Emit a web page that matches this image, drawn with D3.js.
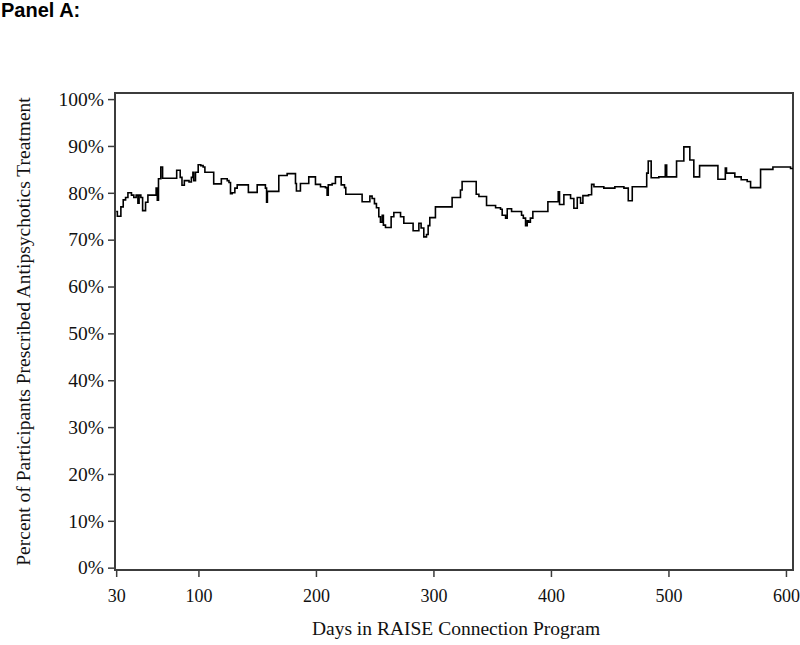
<!DOCTYPE html>
<html>
<head>
<meta charset="utf-8">
<script src="https://cdn.jsdelivr.net/npm/d3@7"></script>
<style>
  body { margin: 0; background: #fff; }
  svg { display: block; }
</style>
</head>
<body>
<div id="chart"></div>
<script>
// step points: day where the level starts, and the percent from that day on
const days = [30, 31, 34, 36, 38, 40, 43, 45, 47, 48.5, 49.5, 51, 52.5, 55, 57, 64, 65, 66, 68, 69.5,
  81.5, 84.5, 86, 88, 92, 94, 95.3, 96, 97.5, 99.8, 102, 104, 105.5, 113, 119.5, 124.5, 126, 127.3, 128.7, 131,
  133, 142.5, 150, 157, 158, 158.7, 168.4, 175.5, 182.6, 183.4, 186.8, 193.9, 199.6, 203.9, 208.1, 209.5, 210.5, 213.8,
  216.6, 221.5, 224.3, 225.4, 239.3, 245.9, 247.8, 249.8, 251.5, 253.5, 254.9, 256.4, 257.4, 259.2, 264, 266.3, 272,
  274.8, 282.7, 287.6, 289.5, 291.8, 294.1, 295.5, 296.9, 301.7, 315.9, 323, 324.4, 336.4, 338.7, 345.2, 352.9,
  357.1, 358.5, 361.4, 362.8, 366.5, 375, 376.5, 378.4, 379.8, 381, 382.5, 384.6, 397.4, 406.2, 407.3, 411, 416.7,
  419.5, 422.4, 425.2, 427.2, 432, 434.6, 436.6, 445, 454.4, 462.1, 465.8, 469.2, 481.5, 482.8, 485.3, 491.8,
  497.3, 498.5, 506.9, 513.1, 518.2, 521.6, 526.5, 542.1, 548.4, 549.4, 556.5, 561.9, 567, 569.9, 578.4, 588.9,
  603.9, 606];
const pct = [76.0, 75.0, 77.0, 78.5, 79.0, 80.0, 79.5, 79.0, 79.5, 77.8, 79.5, 79.0, 76.2, 78.0, 79.5, 81.0, 78.4, 83.0, 85.5, 83.1,
  84.8, 83.3, 81.6, 82.6, 82.3, 83.3, 84.4, 82.6, 84.4, 86.0, 85.8, 85.5, 84.4, 81.9, 83.0, 82.6, 82.2, 79.8, 80.0, 81.0,
  81.7, 80.1, 81.7, 81.0, 78.0, 80.3, 83.7, 84.1, 82.0, 80.4, 82.0, 83.4, 81.8, 81.3, 81.1, 79.5, 81.7, 82.0,
  83.4, 81.7, 81.1, 79.7, 78.1, 79.3, 78.8, 77.7, 76.8, 74.9, 73.7, 75.2, 73.1, 72.6, 74.9, 75.8, 74.9,
  73.5, 71.9, 73.5, 72.5, 70.6, 71.1, 73.0, 74.7, 77.0, 79.0, 80.6, 82.4, 79.7, 79.2, 77.3, 76.8,
  76.5, 75.2, 74.6, 76.6, 76.0, 75.2, 74.6, 73.0, 74.0, 73.7, 74.6, 76.0, 78.1, 80.2, 77.5, 79.6, 78.8,
  76.7, 79.0, 77.8, 79.4, 79.6, 81.8, 81.3, 81.0, 81.3, 81.0, 78.3, 81.3, 84.2, 86.8, 83.2, 83.4,
  85.9, 83.4, 86.8, 89.8, 87.0, 83.4, 85.8, 82.9, 85.3, 84.2, 83.4, 82.8, 82.4, 81.1, 85.0, 85.5,
  85.2, 85.2];

const xTicks = [30, 100, 200, 300, 400, 500, 600];
const yTicks = [0, 10, 20, 30, 40, 50, 60, 70, 80, 90, 100];

const width = 800;
const height = 645;
const plotLeft = 115, plotRight = 793, plotTop = 93, plotBottom = 570;

const svg = d3.select("#chart").append("svg")
  .attr("width", width)
  .attr("height", height);

const x = d3.scaleLinear().domain([29, 606]).range([plotLeft, plotRight]);
const y = d3.scaleLinear().domain([-0.5, 101.3]).range([plotBottom, plotTop]);

const axisColor = "#3c3c3c";
const serif = "'Liberation Serif', 'Times New Roman', serif";

// x axis
const gx = svg.append("g")
  .attr("transform", `translate(0,${plotBottom})`)
  .call(d3.axisBottom(x).tickValues(xTicks).tickSize(7).tickPadding(12).tickSizeOuter(0));

// y axis
const gy = svg.append("g")
  .attr("transform", `translate(${plotLeft},0)`)
  .call(d3.axisLeft(y).tickValues(yTicks).tickFormat(d => d + "%").tickSize(7).tickPadding(4).tickSizeOuter(0));

[gx, gy].forEach(g => {
  g.select(".domain").remove();
  g.selectAll("line").attr("stroke", axisColor).attr("stroke-width", 1.5);
  g.selectAll("text").attr("fill", "#111").style("font-family", serif);
});
gx.selectAll("text").style("font-size", "18px");
gy.selectAll("text").style("font-size", "19.5px");

// frame around the plot
svg.append("rect")
  .attr("x", plotLeft)
  .attr("y", plotTop)
  .attr("width", plotRight - plotLeft)
  .attr("height", plotBottom - plotTop)
  .attr("fill", "none")
  .attr("stroke", axisColor)
  .attr("stroke-width", 2);

const points = days.map((d, i) => [d, pct[i]]);

const line = d3.line()
  .x(d => x(d[0]))
  .y(d => y(d[1]))
  .curve(d3.curveStepAfter);

svg.append("path")
  .datum(points)
  .attr("fill", "none")
  .attr("stroke", "#000")
  .attr("stroke-width", 1.6)
  .attr("d", line);

// titles
svg.append("text")
  .attr("x", (plotLeft + plotRight) / 2 + 2)
  .attr("y", 635)
  .attr("text-anchor", "middle")
  .style("font-family", serif)
  .style("font-size", "19.5px")
  .attr("fill", "#111")
  .text("Days in RAISE Connection Program");

svg.append("text")
  .attr("transform", `translate(30,${(plotTop + plotBottom) / 2}) rotate(-90)`)
  .attr("text-anchor", "middle")
  .style("font-family", serif)
  .style("font-size", "19.5px")
  .attr("fill", "#111")
  .text("Percent of Participants Prescribed Antipsychotics Treatment");

svg.append("text")
  .attr("x", 1)
  .attr("y", 17)
  .style("font-family", "'Liberation Sans', Arial, sans-serif")
  .style("font-weight", "bold")
  .style("font-size", "20px")
  .attr("fill", "#000")
  .text("Panel A:");
</script>
</body>
</html>
